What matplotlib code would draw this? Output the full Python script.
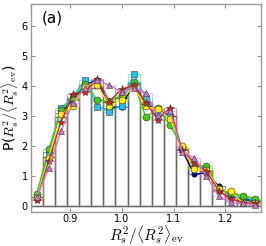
import matplotlib
matplotlib.use('Agg')
import matplotlib.pyplot as plt
import numpy as np

plt.rcParams['mathtext.fontset'] = 'cm'

# bin edges of R_s^2 / <R_s^2>_ev
edges = np.linspace(0.823, 1.269, 20)

navy = [0.30, 1.80, 3.10, 3.55, 4.05, 4.20, 3.28, 3.30, 4.10, 3.40, 3.20, 3.00, 1.85, 1.05, 1.10, 0.65, 0.35, 0.20, 0.20]
cyan = [0.30, 1.78, 3.25, 3.65, 4.21, 3.31, 3.14, 3.35, 4.42, 3.60, 3.10, 3.00, 1.90, 1.35, 1.25, 0.55, 0.40, 0.25, 0.20]
green = [0.40, 1.88, 3.20, 3.60, 4.08, 3.53, 3.50, 3.69, 4.13, 2.95, 3.27, 2.69, 1.97, 1.31, 1.33, 0.51, 0.42, 0.33, 0.23]
yellow = [0.25, 1.60, 3.05, 3.35, 3.98, 4.05, 3.32, 3.55, 4.00, 3.32, 3.22, 2.90, 2.00, 1.22, 1.19, 0.55, 0.48, 0.09, 0.10]
red = [0.18, 1.50, 2.80, 3.75, 3.80, 4.25, 3.48, 3.90, 4.02, 3.44, 2.88, 3.27, 1.85, 1.44, 1.15, 0.50, 0.22, 0.10, 0.08]
violet = [0.28, 1.26, 2.48, 3.45, 3.95, 4.20, 4.03, 3.80, 3.94, 3.78, 3.02, 3.16, 1.79, 1.60, 1.00, 0.31, 0.11, 0.07, 0.03]

series = [
    (navy, '#000080', 'o', 4),
    (cyan, '#1ec4ee', 's', 4),
    (green, '#44cc11', 'o', 5),
    (yellow, '#ffee00', 'o', 5),
    (red, '#dd2020', '*', 6),
    (violet, '#cc77cc', '^', 4.5),
]

centers = 0.5 * (edges[:-1] + edges[1:])
width = edges[1] - edges[0]
mean = np.mean([s[0] for s in series], axis=0)

fig = plt.figure(figsize=(2.66, 2.46), dpi=100)
ax = fig.add_axes([0.115, 0.14, 0.866, 0.844])

ax.bar(centers, mean, width=width, facecolor='none', edgecolor='#cccccc', linewidth=2.0, zorder=0)
ax.bar(centers, mean, width=width, facecolor='none', edgecolor='#666666', linewidth=0.7, zorder=1)

for vals, col, mk, ms in series:
    ax.stairs(vals, edges, baseline=None, color=col, linewidth=0.7, alpha=0.45, zorder=2)
for vals, col, mk, ms in series:
    ax.plot(centers, vals, '-', color=col, marker=mk, markersize=ms,
            markeredgecolor='#333333', markeredgewidth=0.4, linewidth=1.0, zorder=3)

ax.set_xlim(edges[0], edges[-1])
ax.set_ylim(-0.2, 6.75)
ax.set_xticks([0.9, 1.0, 1.1, 1.2])
ax.set_yticks([0, 1, 2, 3, 4, 5, 6])
ax.tick_params(direction='in', top=True, right=True, labelsize=7, length=3, width=0.6,
               pad=2, color='#777777')
for sp in ax.spines.values():
    sp.set_color('#999999')
    sp.set_linewidth(1.0)

ax.set_xlabel(r'$R_s^2/\langle R_s^2\rangle_{\rm ev}$', fontsize=11)
ax.xaxis.set_label_coords(0.5, -0.058)
ax.set_ylabel(r'P($R_s^2/\langle R_s^2\rangle_{\rm ev}$)', fontsize=10)
ax.yaxis.set_label_coords(-0.04, 0.5)
ax.text(0.05, 0.93, '(a)', transform=ax.transAxes, fontsize=11, va='center')

fig.savefig('out.png', dpi=100)
